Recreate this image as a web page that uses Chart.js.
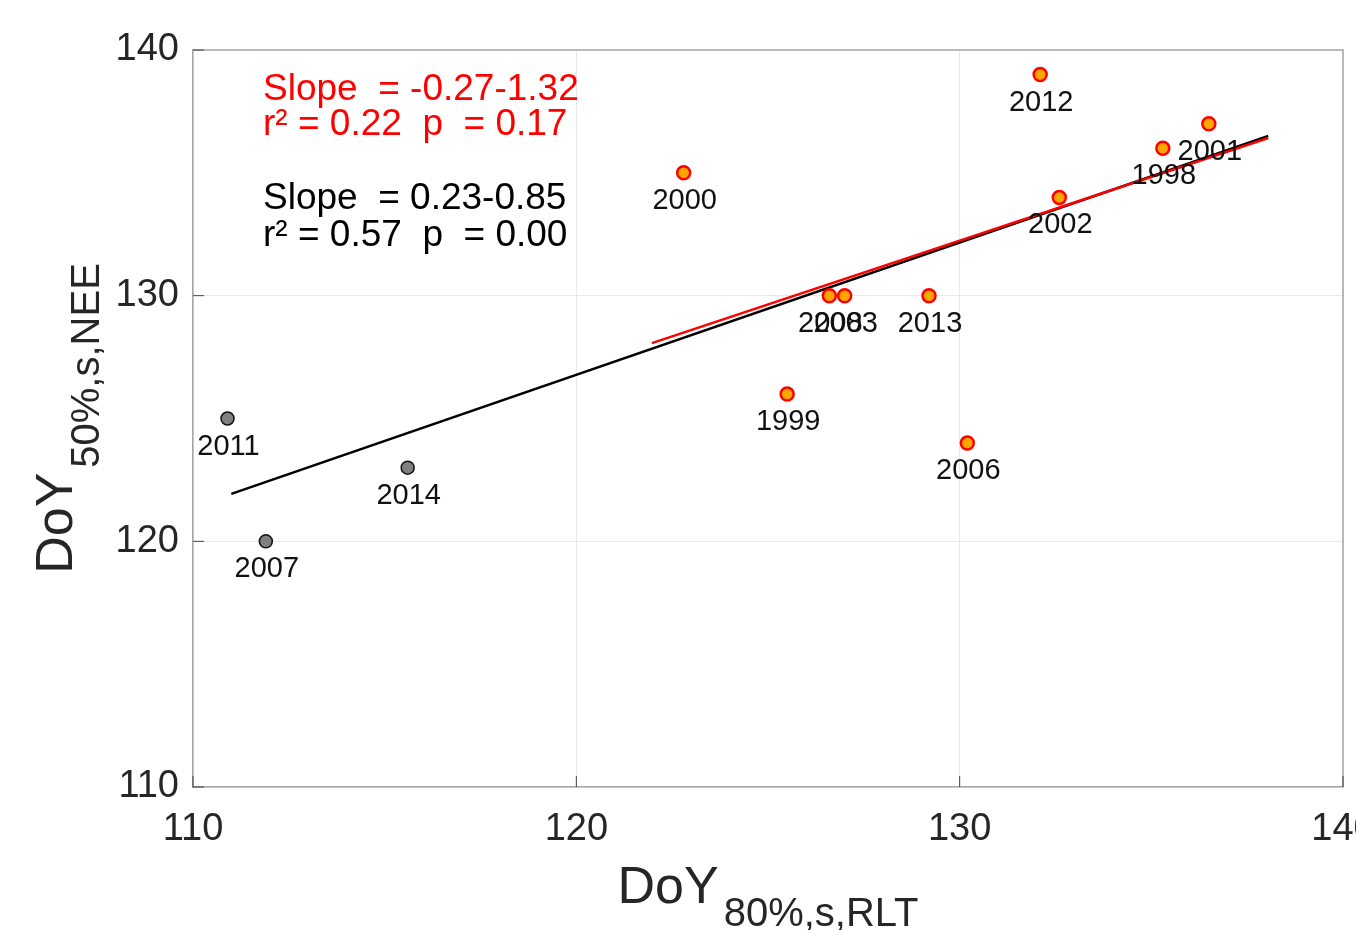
<!DOCTYPE html>
<html>
<head>
<meta charset="utf-8">
<script src="https://cdn.jsdelivr.net/npm/chart.js@4/dist/chart.umd.min.js"></script>
<style>
  html, body { margin: 0; padding: 0; background: #fff; overflow: hidden; }
  canvas { display: block; }
</style>
</head>
<body>
<canvas id="doyChart" width="1356" height="930"></canvas>
<script>
// years before the shift (grey) and the rest (orange)
var greyYears = ["2011", "2007", "2014"];
var greyX = [110.9, 111.9, 115.6];
var greyY = [125, 120, 123];

var orangeYears = ["2000", "2008", "2003", "2013", "1999", "2006", "2012", "2002", "1998", "2001"];
var orangeX = [122.8, 126.6, 127.0, 129.2, 125.5, 130.2, 132.1, 132.6, 135.3, 136.5];
var orangeY = [135, 130, 130, 130, 126, 124, 139, 134, 136, 137];

// regression lines (end points)
var blackFitX = [111.0, 138.05];
var blackFitY = [121.93, 136.5];
var redFitX = [121.97, 138.05];
var redFitY = [128.07, 136.42];

var tickValues = [110, 120, 130, 140];

var redStats = ["Slope  = -0.27-1.32", "r\u00b2 = 0.22  p  = 0.17"];
var blackStats = ["Slope  = 0.23-0.85", "r\u00b2 = 0.57  p  = 0.00"];

var FONT = "'Liberation Sans', Arial, sans-serif";

function toPoints(xs, ys) {
    var pts = [];
    for (var i = 0; i < xs.length; i++)
        pts.push({ x: xs[i], y: ys[i] });
    return pts;
}

var extras = {
    id: "extras",
    afterDraw: function (chart) {
        var ctx = chart.ctx;
        var area = chart.chartArea;
        var xs = chart.scales.x, ys = chart.scales.y;

        ctx.save();
        // box top/right
        ctx.strokeStyle = "#a6a6a6";
        ctx.lineWidth = 1.5;
        ctx.beginPath();
        ctx.moveTo(area.left, area.top);
        ctx.lineTo(area.right, area.top);
        ctx.lineTo(area.right, area.bottom);
        ctx.stroke();

        // inward ticks
        ctx.strokeStyle = "#444";
        ctx.lineWidth = 1;
        tickValues.forEach(function (v) {
            var py = ys.getPixelForValue(v);
            ctx.beginPath();
            ctx.moveTo(area.left, py);
            ctx.lineTo(area.left + 11, py);
            ctx.stroke();
            var px = xs.getPixelForValue(v);
            ctx.beginPath();
            ctx.moveTo(px, area.bottom);
            ctx.lineTo(px, area.bottom - 11);
            ctx.stroke();
        });

        // year labels
        ctx.fillStyle = "#111";
        ctx.font = "29px " + FONT;
        ctx.textAlign = "center";
        ctx.textBaseline = "alphabetic";
        [[0, greyYears], [1, orangeYears]].forEach(function (pair) {
            var meta = chart.getDatasetMeta(pair[0]);
            meta.data.forEach(function (pt, i) {
                ctx.fillText(pair[1][i], pt.x + 1, pt.y + 36);
            });
        });

        // statistics text
        ctx.textAlign = "left";
        ctx.font = "37px " + FONT;
        ctx.fillStyle = "#ff0000";
        ctx.fillText(redStats[0], area.left + 70, area.top + 50);
        ctx.fillText(redStats[1], area.left + 70, area.top + 85);
        ctx.fillStyle = "#000";
        ctx.fillText(blackStats[0], area.left + 70, area.top + 159);
        ctx.fillText(blackStats[1], area.left + 70, area.top + 196);

        // axis titles with subscripts
        ctx.fillStyle = "#262626";
        var mainFont = "52px " + FONT, subFont = "40px " + FONT;
        ctx.font = mainFont;
        var wMain = ctx.measureText("DoY").width;
        ctx.font = subFont;
        var xSub = "80%,s,RLT", ySub = "50%,s,NEE";
        var wSubX = ctx.measureText(xSub).width;
        var wSubY = ctx.measureText(ySub).width;

        var cx = (area.left + area.right) / 2;
        var x0 = cx - (wMain + 5 + wSubX) / 2;
        ctx.font = mainFont;
        ctx.fillText("DoY", x0, 903);
        ctx.font = subFont;
        ctx.fillText(xSub, x0 + wMain + 5, 926);

        var cy = (area.top + area.bottom) / 2;
        ctx.translate(72, cy);
        ctx.rotate(-Math.PI / 2);
        var y0 = -(wMain + 5 + wSubY) / 2;
        ctx.font = mainFont;
        ctx.fillText("DoY", y0, 0);
        ctx.font = subFont;
        ctx.fillText(ySub, y0 + wMain + 5, 27);
        ctx.restore();
    }
};

var chart = new Chart("doyChart", {
    type: "scatter",
    data: {
        datasets: [{
            label: "grey",
            data: toPoints(greyX, greyY),
            backgroundColor: "#808080",
            borderColor: "#111",
            borderWidth: 1.5,
            pointRadius: 6.5,
            order: 0
        }, {
            label: "orange",
            data: toPoints(orangeX, orangeY),
            backgroundColor: "#ffa500",
            borderColor: "#ff0000",
            borderWidth: 2.5,
            pointRadius: 6.5,
            order: 0
        }, {
            label: "red fit",
            data: toPoints(redFitX, redFitY),
            showLine: true,
            borderColor: "#ff0000",
            borderWidth: 2.5,
            pointRadius: 0,
            order: 1
        }, {
            label: "black fit",
            data: toPoints(blackFitX, blackFitY),
            showLine: true,
            borderColor: "#000",
            borderWidth: 2.5,
            pointRadius: 0,
            order: 2
        }]
    },
    options: {
        responsive: false,
        animation: false,
        layout: { padding: { top: 50, right: 13, left: 0, bottom: 0 } },
        plugins: {
            legend: { display: false },
            tooltip: { enabled: false }
        },
        scales: {
            x: {
                type: "linear",
                min: 110,
                max: 140,
                afterBuildTicks: function (s) { s.ticks = tickValues.map(function (v) { return { value: v }; }); },
                afterFit: function (s) { s.height = 143; s.paddingLeft = 0; s.paddingRight = 0; },
                grid: { color: "#e8e8e8", lineWidth: 1, drawTicks: false },
                border: { color: "#a6a6a6", width: 1.5 },
                ticks: {
                    padding: 20,
                    color: "#262626",
                    font: { family: FONT, size: 38 }
                }
            },
            y: {
                type: "linear",
                min: 110,
                max: 140,
                afterBuildTicks: function (s) { s.ticks = tickValues.map(function (v) { return { value: v }; }); },
                afterFit: function (s) { s.width = 193; s.paddingTop = 0; s.paddingBottom = 0; },
                grid: { color: "#e8e8e8", lineWidth: 1, drawTicks: false },
                border: { color: "#a6a6a6", width: 1.5 },
                ticks: {
                    padding: 14,
                    color: "#262626",
                    font: { family: FONT, size: 38 }
                }
            }
        }
    },
    plugins: [extras]
});
</script>
</body>
</html>
